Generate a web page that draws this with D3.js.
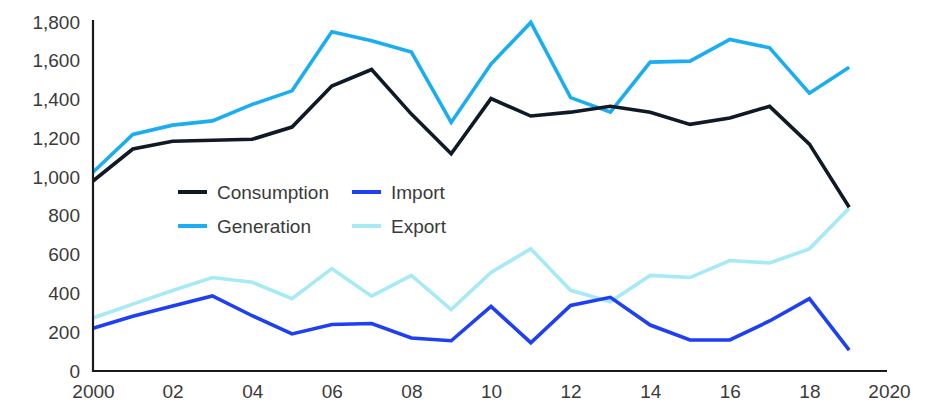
<!DOCTYPE html>
<html><head><meta charset="utf-8">
<script src="https://cdn.jsdelivr.net/npm/d3@7"></script>
<style>html,body{margin:0;padding:0;background:#fff;}svg{display:block;}</style>
</head><body>
<svg id="chart" width="925" height="404"></svg>
<script>
const years = [2000,2001,2002,2003,2004,2005,2006,2007,2008,2009,2010,2011,2012,2013,2014,2015,2016,2017,2018,2019];
const consumption = [980,1145,1185,1190,1195,1258,1470,1555,1325,1120,1405,1315,1335,1365,1335,1272,1305,1365,1170,845];
const generation = [1025,1220,1268,1290,1375,1445,1750,1703,1645,1282,1583,1798,1410,1335,1593,1598,1710,1667,1433,1567];
const importV = [220,282,335,387,285,191,240,245,170,156,333,146,338,380,237,160,160,258,373,108];
const exportV = [273,345,415,482,458,373,528,386,493,317,508,630,416,357,493,482,570,557,630,840];
const yTicks = [0,200,400,600,800,1000,1200,1400,1600,1800];
const xTicks = [2000,2002,2004,2006,2008,2010,2012,2014,2016,2018,2020];
const xTickLabels = ["2000","02","04","06","08","10","12","14","16","18","2020"];
const seriesNames = ["Consumption","Generation","Import","Export"];
const seriesColors = ["#0f1a26","#1aaef0","#1f3ff2","#a6eaf6"];

const svg = d3.select("#chart");
const x = d3.scaleLinear().domain([2000,2020]).range([93,889]);
const y = d3.scaleLinear().domain([0,1800]).range([371,22]);
const font = "'Liberation Sans', Arial, sans-serif";

const data = [consumption, generation, importV, exportV];
const line = d3.line().x((d,i)=>x(years[i])).y(d=>y(d));

const order = [3,2,1,0];
order.forEach(k=>{
  svg.append("path").datum(data[k]).attr("d",line)
    .attr("fill","none").attr("stroke",seriesColors[k])
    .attr("stroke-width",3.6).attr("stroke-linejoin","miter").attr("stroke-linecap","butt");
});

// y axis
const yAxis = d3.axisLeft(y).tickValues(yTicks).tickSize(0).tickPadding(13)
  .tickFormat(d3.format(","));
const gy = svg.append("g").attr("transform","translate(93,0)").call(yAxis);
gy.select(".domain").attr("stroke","#1a1a1a").attr("stroke-width",2.2).attr("d","M0,20V372");
gy.selectAll("text").attr("font-family",font).attr("font-size",19).attr("fill","#3a3a3a");

// x axis
const xAxis = d3.axisBottom(x).tickValues(xTicks).tickSize(0).tickPadding(14)
  .tickFormat((d,i)=>xTickLabels[i]);
const gx = svg.append("g").attr("transform","translate(0,371)").call(xAxis);
gx.select(".domain").attr("stroke","#1a1a1a").attr("stroke-width",2.2).attr("d","M92,0H887");
gx.selectAll("text").attr("font-family",font).attr("font-size",19).attr("fill","#3a3a3a");

// legend
const legPos = [[178,192],[178,226],[352,192],[352,226]];
seriesNames.forEach((n,i)=>{
  const [lx,ly] = legPos[i];
  svg.append("line").attr("x1",lx).attr("x2",lx+29).attr("y1",ly).attr("y2",ly)
    .attr("stroke",seriesColors[i]).attr("stroke-width",4);
  svg.append("text").attr("x",lx+39).attr("y",ly).attr("dy","0.35em")
    .attr("font-family",font).attr("font-size",19).attr("fill","#3a3a3a").text(n);
});
</script>
</body></html>
